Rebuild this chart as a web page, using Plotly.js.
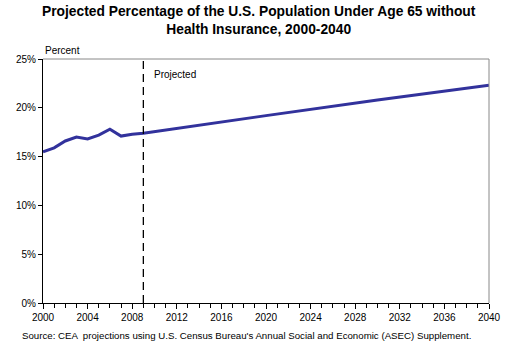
<!DOCTYPE html>
<html><head><meta charset="utf-8">
<script src="https://cdn.plot.ly/plotly-3.0.1.min.js"></script>
<style>html,body{margin:0;padding:0;background:#fff}#c{width:510px;height:351px}</style>
</head><body><div id="c"></div>
<script>
const years = [2000,2001,2002,2003,2004,2005,2006,2007,2008,2009,2020,2030,2040];
const uninsuredPct = [15.5,15.9,16.6,17.0,16.8,17.2,17.8,17.1,17.3,17.4,19.2,20.8,22.3];
const projectedStartYear = 2009;
const yTickVals = [0,5,10,15,20,25];
const yTickText = ['0%','5%','10%','15%','20%','25%'];

const font = 'Liberation Sans, Arial, sans-serif';
const data = [{
  x: years, y: uninsuredPct, type: 'scatter', mode: 'lines',
  line: {color: '#32329c', width: 3}, hoverinfo: 'skip'
}];
const layout = {
  width: 510, height: 351,
  margin: {l: 43, r: 21, t: 59, b: 48},
  paper_bgcolor: '#fff', plot_bgcolor: '#fff',
  showlegend: false,
  font: {family: font, size: 10, color: '#000'},
  xaxis: {
    range: [2000, 2040], tickvals: [2000,2004,2008,2012,2016,2020,2024,2028,2032,2036,2040],
    ticks: 'outside', ticklen: 5, tickcolor: '#000', showgrid: false, zeroline: false,
    showline: true, linecolor: '#000', linewidth: 1,
    tickfont: {family: font, size: 10},
    minor: {dtick: 1, tick0: 2000, ticks: 'outside', ticklen: 4, tickcolor: '#000', showgrid: false}
  },
  yaxis: {
    range: [0, 25], tickvals: yTickVals, ticktext: yTickText,
    ticks: 'outside', ticklen: 4, tickcolor: '#000', showgrid: false, zeroline: false,
    showline: true, linecolor: '#000', linewidth: 1,
    tickfont: {family: font, size: 10}
  },
  shapes: [
    {type: 'line', xref: 'paper', yref: 'paper', x0: 0, x1: 1, y0: 1, y1: 1, line: {color: '#888', width: 1}},
    {type: 'line', xref: 'paper', yref: 'paper', x0: 1, x1: 1, y0: 0, y1: 1, line: {color: '#888', width: 1}},
    {type: 'line', xref: 'x', yref: 'paper', x0: projectedStartYear, x1: projectedStartYear, y0: 0, y1: 1,
     line: {color: '#000', width: 1.3, dash: '8px,5px'}}
  ],
  annotations: [
    {text: '<b>Projected Percentage of the U.S. Population Under Age 65 without<br>Health Insurance, 2000-2040</b>',
     xref: 'paper', yref: 'paper', x: 0.484, y: 1, xanchor: 'center', yanchor: 'bottom', yshift: 20,
     showarrow: false, font: {family: font, size: 13.8, color: '#000'}},
    {text: 'Percent', xref: 'paper', yref: 'paper', x: 0, y: 1, xanchor: 'left', yanchor: 'bottom', yshift: 1,
     showarrow: false, font: {family: font, size: 10}},
    {text: 'Projected', xref: 'x', yref: 'paper', x: projectedStartYear, y: 0.935, xanchor: 'left', yanchor: 'middle', xshift: 9,
     showarrow: false, font: {family: font, size: 10}},
    {text: "Source: CEA  projections using U.S. Census Bureau's Annual Social and Economic (ASEC) Supplement.",
     xref: 'paper', yref: 'paper', x: -0.052, y: 0, xanchor: 'left', yanchor: 'top', yshift: -25,
     showarrow: false, font: {family: font, size: 9.7}}
  ]
};
Plotly.newPlot('c', data, layout, {displayModeBar: false, staticPlot: true});
</script></body></html>
